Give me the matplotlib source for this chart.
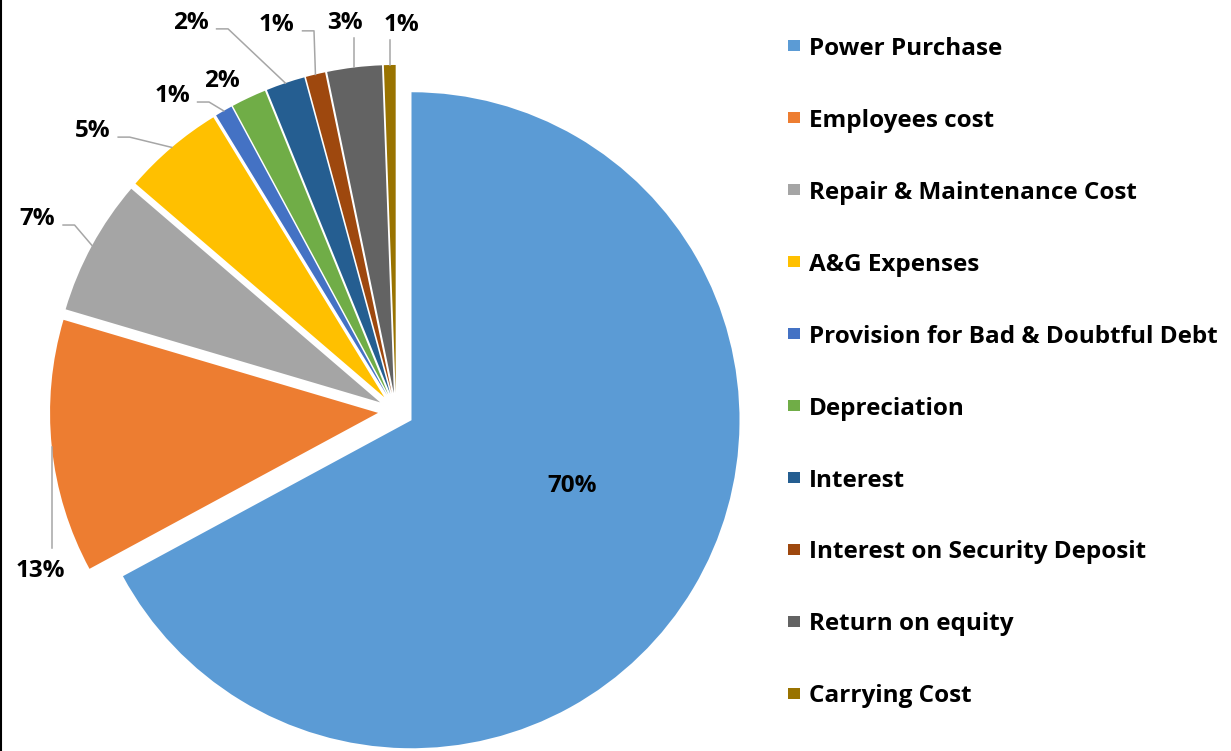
import numpy as np
import matplotlib.pyplot as plt
from matplotlib.lines import Line2D
from matplotlib.patches import Rectangle

# Veriler
categories = ["Power Purchase", "Employees cost", "Repair & Maintenance Cost",
              "A&G Expenses", "Provision for Bad & Doubtful Debt", "Depreciation",
              "Interest", "Interest on Security Deposit", "Return on equity",
              "Carrying Cost"]
values = [70, 13, 7, 5.2, 0.9, 1.8, 2.0, 1.0, 2.8, 0.6]
colors = ["#5B9BD5", "#ED7D31", "#A5A5A5", "#FFC000", "#4472C4",
          "#70AD47", "#255E91", "#9E480E", "#636363", "#997300"]
labels = [f"{v:.0f}%" for v in values]

# label baselines (pie radius = 1) and leader style
label_pos = [(0.537, -0.247), (-1.084, -0.506), (-1.093, 0.567), (-0.925, 0.835),
             (-0.683, 0.942), (-0.530, 0.988), (-0.625, 1.165), (-0.363, 1.159),
             (-0.155, 1.165), (0.018, 1.159)]
leader = [None, "up", "elbow", "elbow", "elbow", None, "elbow", "elbow", "down", "down"]

plt.rcParams["font.family"] = ["Open Sans", "DejaVu Sans"]
plt.rcParams["font.weight"] = "bold"

fig = plt.figure(figsize=(12.31, 7.51), dpi=100)
ax = fig.add_axes([0, 0, 1, 1])

wedges, _ = ax.pie(values, colors=colors, startangle=90, counterclock=False,
                   explode=[0.055] * len(values), radius=1,
                   wedgeprops={"linewidth": 0})
ax.set_aspect("auto")
ax.set_xlim(-396 / 328, (1231 - 396) / 328)
ax.set_ylim((411 - 751) / 328, 411 / 328)
ax.axis("off")

# yüzde etiketleri ve çizgiler
for w, lab, (tx, ty), kind in zip(wedges, labels, label_pos, leader):
    ax.text(tx, ty, lab, ha="center", va="baseline", fontsize=17.5,
            fontweight="bold", color="black")
    mid = np.deg2rad((w.theta1 + w.theta2) / 2)
    px = w.center[0] + w.r * np.cos(mid)
    py = w.center[1] + w.r * np.sin(mid)
    if kind == "elbow":
        sx = tx + 0.078
        ax.plot([sx, sx + 0.035, px], [ty, ty, py], color="#A6A6A6", lw=1.1)
    elif kind == "up":
        ax.plot([px, px], [ty + 0.088, py], color="#A6A6A6", lw=1.1)
    elif kind == "down":
        ax.plot([px, px], [ty - 0.027, py], color="#A6A6A6", lw=1.1)

# lejant
for i, (name, c) in enumerate(zip(categories, colors)):
    yb = 1.085 - i * 0.2192
    ys = 1.113 - i * 0.2192
    ax.add_patch(Rectangle((1.2134 - 0.0168, ys - 0.0168), 0.0336, 0.0336,
                           color=c, lw=0))
    ax.text(1.259, yb, name, ha="left", va="baseline", fontsize=17.5,
            fontweight="bold", color="black")

fig.add_artist(Line2D([0.001, 0.001], [0, 1], transform=fig.transFigure,
                      color="black", lw=1.5))

fig.savefig("out.png", dpi=100)
